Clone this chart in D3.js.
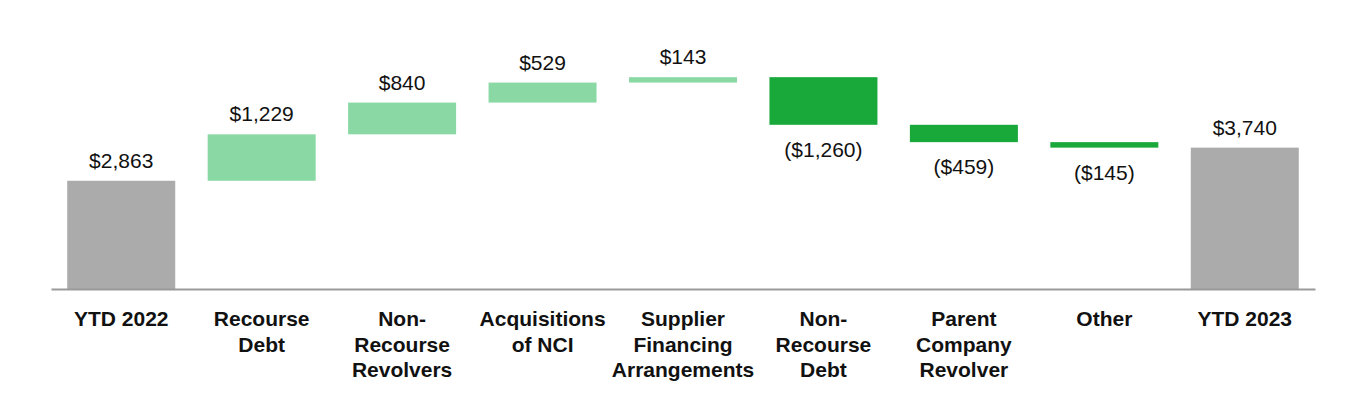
<!DOCTYPE html>
<html>
<head>
<meta charset="utf-8">
<script src="https://cdn.jsdelivr.net/npm/d3@7"></script>
<style>
  html, body { margin: 0; padding: 0; background: #ffffff; }
  svg { display: block; font-family: Arial, "Liberation Sans", sans-serif; }
</style>
</head>
<body>
<svg id="chart" width="1364" height="400"></svg>
<script>
// ---- data ----
const categories = ["YTD 2022", "Recourse Debt", "Non-Recourse Revolvers", "Acquisitions of NCI",
  "Supplier Financing Arrangements", "Non-Recourse Debt", "Parent Company Revolver", "Other", "YTD 2023"];
const categoryLines = [
  ["YTD 2022"],
  ["Recourse", "Debt"],
  ["Non-", "Recourse", "Revolvers"],
  ["Acquisitions", "of NCI"],
  ["Supplier", "Financing", "Arrangements"],
  ["Non-", "Recourse", "Debt"],
  ["Parent", "Company", "Revolver"],
  ["Other"],
  ["YTD 2023"]
];
const values = [2863, 1229, 840, 529, 143, -1260, -459, -145, 3740];
const kinds = ["total", "delta", "delta", "delta", "delta", "delta", "delta", "delta", "total"];

// ---- build waterfall ----
let running = 0;
const bars = categories.map((c, i) => {
  const v = values[i];
  let y0, y1;
  if (kinds[i] === "total") { y0 = 0; y1 = v; running = v; }
  else { y0 = running; y1 = running + v; running = y1; }
  return { cat: c, lines: categoryLines[i], value: v, kind: kinds[i], lo: Math.min(y0, y1), hi: Math.max(y0, y1) };
});

const fmt = v => (v < 0 ? "($" + d3.format(",")(-v) + ")" : "$" + d3.format(",")(v));
const colorOf = d => d.kind === "total" ? "#ababab" : (d.value >= 0 ? "#8ad9a5" : "#19a83a");

const svg = d3.select("#chart");

const x = d3.scaleBand().domain(categories).range([51, 1315]).paddingInner(0.231).paddingOuter(0.1155);
const y = d3.scaleLinear().domain([0, 5000]).range([289, 100]);

// bars
svg.append("g").selectAll("rect").data(bars).join("rect")
  .attr("x", d => x(d.cat))
  .attr("width", x.bandwidth())
  .attr("y", d => y(d.hi))
  .attr("height", d => y(d.lo) - y(d.hi))
  .attr("fill", colorOf);

// value labels
svg.append("g").selectAll("text").data(bars).join("text")
  .attr("x", d => x(d.cat) + x.bandwidth() / 2)
  .attr("y", d => d.value >= 0 ? y(d.hi) - 13 : y(d.lo) + 32)
  .attr("text-anchor", "middle")
  .attr("font-size", 21)
  .attr("fill", "#111")
  .text(d => fmt(d.value));

// axis
const axis = svg.append("g")
  .attr("transform", `translate(0,${y(0)})`)
  .call(d3.axisBottom(x).tickSize(0).tickFormat(""));
axis.select(".domain").attr("stroke", "#9a9a9a").attr("stroke-width", 2);

// category labels (multi-line)
const lab = svg.append("g").selectAll("text").data(bars).join("text")
  .attr("x", d => x(d.cat) + x.bandwidth() / 2)
  .attr("y", 326)
  .attr("text-anchor", "middle")
  .attr("font-size", 21)
  .attr("font-weight", "bold")
  .attr("fill", "#111");
lab.selectAll("tspan").data(d => d.lines.map(t => ({ t, x: x(d.cat) + x.bandwidth() / 2 }))).join("tspan")
  .attr("x", t => t.x)
  .attr("dy", (t, i) => i === 0 ? 0 : 25.5)
  .text(t => t.t);
</script>
</body>
</html>
